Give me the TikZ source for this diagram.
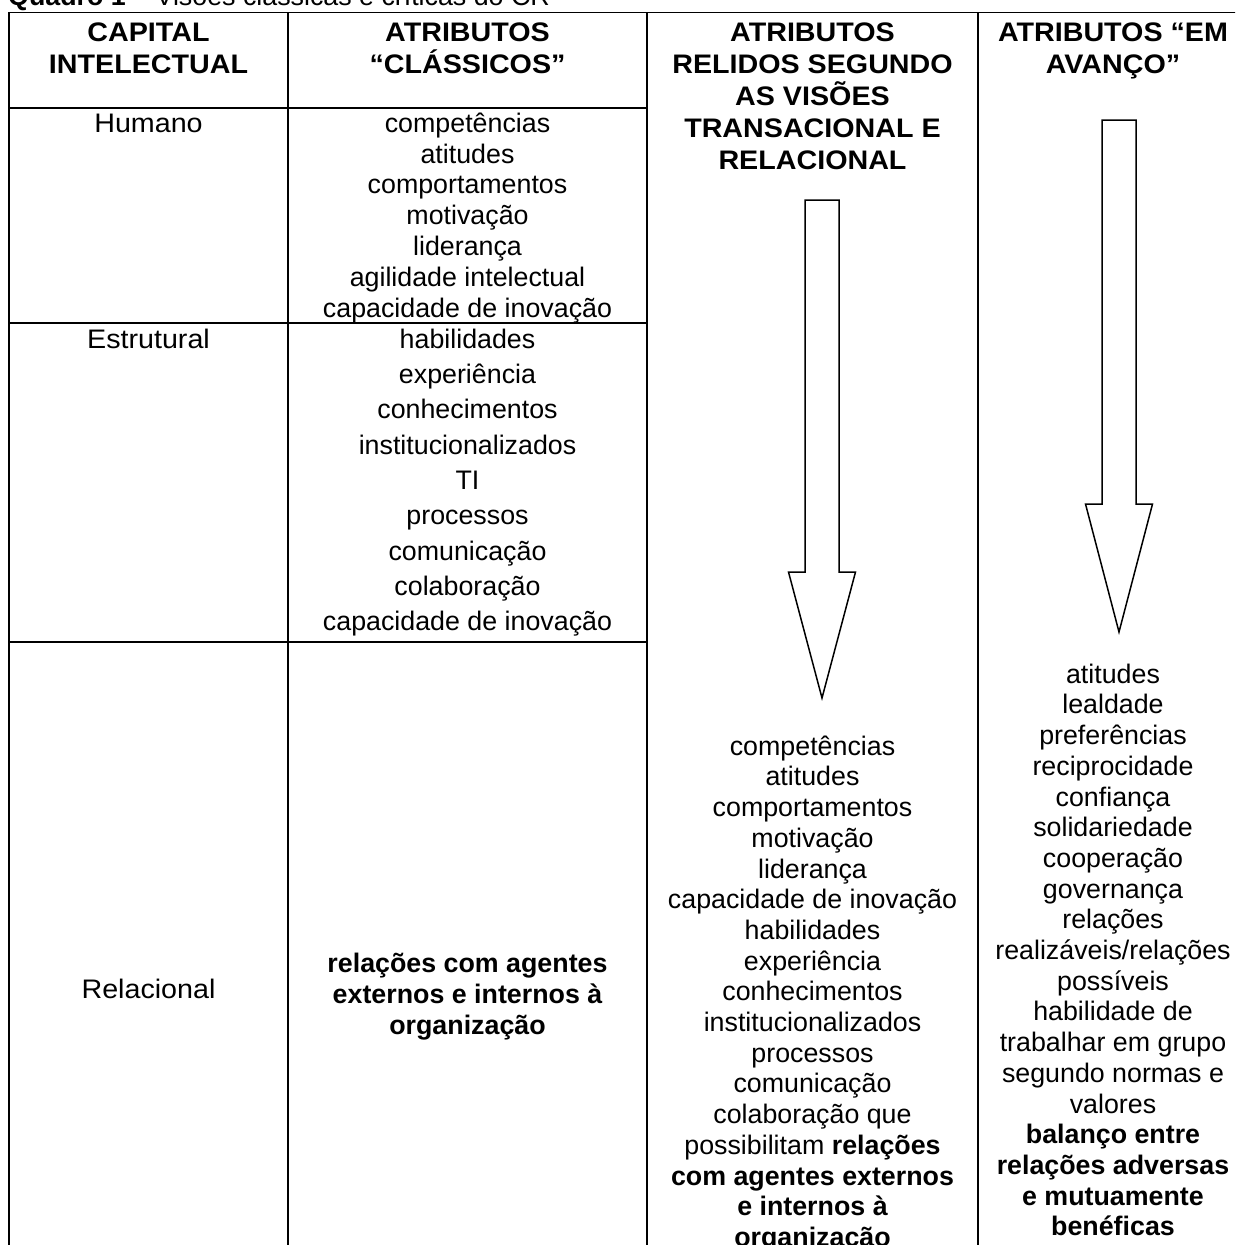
\documentclass[tikz,border=0pt]{standalone}
\usepackage{fontspec}
\setmainfont{Liberation Sans}
\newfontfamily\widefont[FakeStretch=1.07]{Liberation Sans}
\newcommand{\fl}{\rule{0pt}{21.6pt}}
\tikzset{
  grid/.style={line width=1.8pt, black},
  arrowline/.style={line width=1.5pt, black, fill=white, line join=miter},
  body/.style={anchor=north, inner sep=0pt, align=center, font=\fontsize{26.8}{30.8}\selectfont},
  rowlabel/.style={body, font=\widefont\fontsize{26.8}{30.8}\selectfont},
  bodywide/.style={body, font=\fontsize{26.8}{35.3}\selectfont},
  bodylist/.style={body, font=\fontsize{26.8}{30.7}\selectfont},
  bodybold/.style={body, font=\fontsize{26.8}{31}\selectfont\bfseries},
  head/.style={anchor=north, inner sep=0pt, align=center, font=\widefont\fontsize{26.8}{32}\selectfont\bfseries},
  pics/blockarrow/.style 2 args={code={
    \draw[arrowline] (-17,0) -- (17,0) -- (17,#1) -- (33.5,#1) -- (0,#2) -- (-33.5,#1) -- (-17,#1) -- cycle;}}
}
\begin{document}
\begin{tikzpicture}[x=1pt,y=-1pt]
\useasboundingbox (0,0) rectangle (1235,1245);
\clip (0,0) rectangle (1235,1245);
\fill[white] (0,0) rectangle (1235,1245);

% table rules
\draw[grid] (9,1260) -- (9,12.5) -- (1250,12.5);
\draw[grid] (288,12.5) -- (288,1260);
\draw[grid] (647,12.5) -- (647,1260);
\draw[grid] (978,12.5) -- (978,1260);
\draw[grid] (9,108) -- (647,108);
\draw[grid] (9,323) -- (647,323);
\draw[grid] (9,642) -- (647,642);

% caption (cut at top)
\node[anchor=base west, inner sep=0pt, font=\fontsize{26.8}{30.8}\selectfont] (cap) at (8,5.5)
  {\textbf{Quadro 1} – Visões clássicas e críticas do CR};

% headers
\node[head] (h1) at (148.5,19.9) {\fl CAPITAL\\INTELECTUAL};
\node[head] (h2) at (467.5,19.9) {\fl ATRIBUTOS\\“CLÁSSICOS”};
\node[head] (h3) at (812.5,19.9) {\fl ATRIBUTOS\\RELIDOS SEGUNDO\\AS VISÕES\\TRANSACIONAL E\\RELACIONAL};
\node[head] (h4) at (1113,19.9) {\fl ATRIBUTOS “EM\\AVANÇO”};

% row labels
\node[rowlabel] (r1) at (148.5,110.4) {\fl Humano};
\node[rowlabel] (r2) at (148.5,326.4) {\fl Estrutural};
\node[rowlabel] (r3) at (148.5,976.4) {\fl Relacional};

% classical attributes
\node[body] (c21) at (467.5,110.4) {\fl competências\\atitudes\\comportamentos\\motivação\\liderança\\agilidade intelectual\\capacidade de inovação};
\node[bodywide] (c22) at (467.5,326.4) {\fl habilidades\\experiência\\conhecimentos\\institucionalizados\\TI\\processos\\comunicação\\colaboração\\capacidade de inovação};
\node[bodybold] (c23) at (467.5,950.4) {\fl relações com agentes\\externos e internos à\\organização};

% arrows
\pic at (822,200) {blockarrow={372}{498}};
\pic at (1119,120) {blockarrow={384}{512}};

% column 3 list
\node[bodylist] (c3) at (812.5,733.4) {\fl competências\\atitudes\\comportamentos\\motivação\\liderança\\capacidade de inovação\\habilidades\\experiência\\conhecimentos\\institucionalizados\\processos\\comunicação\\colaboração que\\possibilitam \textbf{relações}\\\textbf{com agentes externos}\\\textbf{e internos à}\\\textbf{organização}};

% column 4 list
\node[bodylist] (c4) at (1113,661.4) {\fl atitudes\\lealdade\\preferências\\reciprocidade\\confiança\\solidariedade\\cooperação\\governança\\relações\\realizáveis/relações\\possíveis\\habilidade de\\trabalhar em grupo\\segundo normas e\\valores\\\textbf{balanço entre}\\\textbf{relações adversas}\\\textbf{e mutuamente}\\\textbf{benéficas}};
\end{tikzpicture}
\end{document}
